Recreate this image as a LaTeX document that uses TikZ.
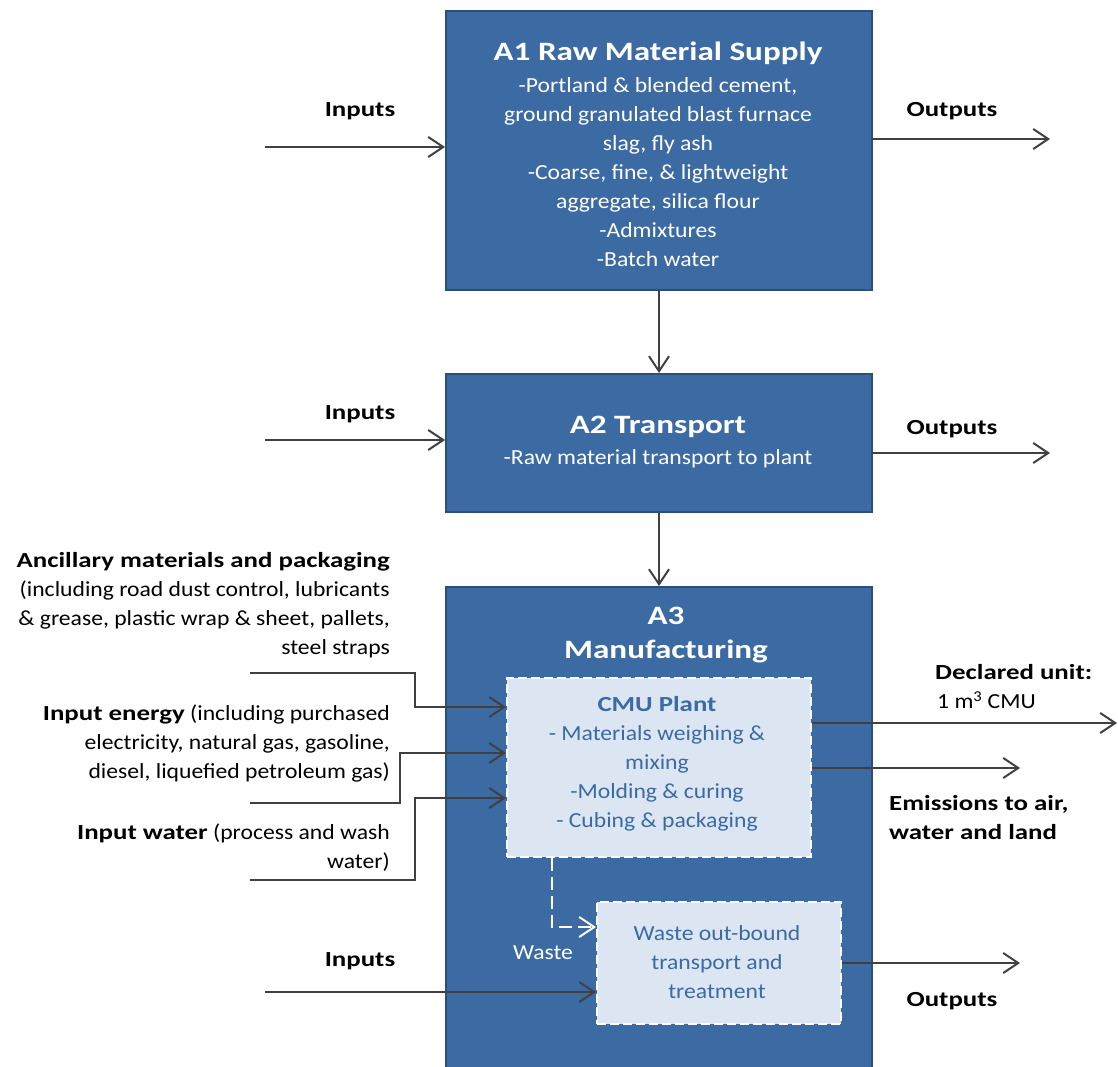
\documentclass[tikz,border=0pt]{standalone}
\usepackage{fontspec}
\setmainfont{Carlito}[UprightFeatures={FakeStretch=1.1}, BoldFeatures={FakeStretch=1.25}]
\usetikzlibrary{arrows.meta}
\definecolor{boxblue}{HTML}{3C6AA2}
\definecolor{boxedge}{HTML}{2B4F7A}
\definecolor{innerfill}{HTML}{DCE6F2}
\definecolor{innertext}{HTML}{3C6AA2}
\definecolor{arr}{HTML}{404040}
\tikzset{
  stage/.style={draw=boxedge, line width=2pt, fill=boxblue, inner sep=0pt, anchor=north west},
  inbox/.style={draw=white, line width=2pt, dash pattern=on 9pt off 4pt, fill=innerfill, inner sep=0pt, anchor=north west},
  flow/.style={draw=arr, line width=2pt, -{Straight Barb[length=15pt,width=20pt,line width=2pt]}},
  wflow/.style={draw=white, line width=2pt, dash pattern=on 13pt off 6pt, -{Straight Barb[length=15pt,width=20pt,line width=2pt]}},
  lbl/.style={inner sep=0pt, font=\fontsize{21.5}{29}\selectfont},
  blbl/.style={lbl, font=\fontsize{21.5}{29}\selectfont\bfseries},
  wtitle/.style={inner sep=0pt, text=white, font=\fontsize{26.5}{35}\selectfont\bfseries},
  wbody/.style={inner sep=0pt, text=white, align=center, font=\fontsize{21.5}{29}\selectfont},
  ibody/.style={inner sep=0pt, text=innertext, align=center, font=\fontsize{21.5}{29}\selectfont},
}
\begin{document}
\begin{tikzpicture}[x=1pt,y=-1pt]
\useasboundingbox[fill=white] (0,0) rectangle (1118,1067);
% stages
\node[stage, minimum width=426, minimum height=279] (A1) at (445,10) {};
\node[stage, minimum width=426, minimum height=138] (A2) at (445,373) {};
\node[stage, minimum width=426, minimum height=500] (A3) at (445,586) {};
% A1 text
\node[wtitle] (A1t) at (658,53) {A1 Raw Material Supply};
\node[wbody] (A1b) at (658,172) {-Portland \& blended cement,\\ground granulated blast furnace\\slag, fly ash\\-Coarse, fine, \& lightweight\\aggregate, silica flour\\-Admixtures\\-Batch water};
% A2 text
\node[wtitle] (A2t) at (658,427) {A2 Transport};
\node[wbody] (A2b) at (658,459) {-Raw material transport to plant};
% A3 text
\node[wtitle] (A3t) at (666,616) {A3};
\node[wtitle] (A3m) at (666,651) {Manufacturing};
% inner boxes
\node[inbox, minimum width=304, minimum height=179] (cmu) at (506,677) {};
\node[ibody] (cmut) at (657,764) {\textbf{CMU Plant}\\- Materials weighing \&\\mixing\\-Molding \& curing\\- Cubing \& packaging};
\node[inbox, minimum width=244, minimum height=122] (waste) at (596,901) {};
\node[ibody] (wastet) at (717,962) {Waste out-bound\\transport and\\treatment};
% vertical flows
\draw[flow] (A1.south) -- (A2.north);
\draw[flow] (A2.south) -- (A3.north);
% A1 inputs/outputs
\node[blbl] (in1t) at (360,111) {Inputs};
\node[blbl] (out1t) at (952,111) {Outputs};
\coordinate (in1) at (265,147);
\coordinate (out1) at (1050,139);
\draw[flow] (in1) -- (A1.west |- in1);
\draw[flow] (A1.east |- out1) -- (out1);
% A2 inputs/outputs
\node[blbl] (in2t) at (360,414) {Inputs};
\node[blbl] (out2t) at (952,429) {Outputs};
\coordinate (in2) at (265,440);
\coordinate (out2) at (1050,453);
\draw[flow] (in2) -- (A2.west |- in2);
\draw[flow] (A2.east |- out2) -- (out2);
% left labels
\node[lbl, align=right, anchor=north east] (anct) at (390,552) {\textbf{Ancillary materials and packaging}\\(including road dust control, lubricants\\\& grease, plastic wrap \& sheet, pallets,\\steel straps};
\node[lbl, align=right, anchor=north east] (enet) at (390,705) {\textbf{Input energy} (including purchased\\electricity, natural gas, gasoline,\\diesel, liquefied petroleum gas)};
\node[lbl, align=right, anchor=north east] (watt) at (390,824) {\textbf{Input water} (process and wash\\water)};
% CMU inputs
\path (cmu.north west) ++(0,30) coordinate (c1) ++(0,46) coordinate (c2) ++(0,45) coordinate (c3);
\coordinate (anc) at (250,673);
\coordinate (ene) at (250,803);
\coordinate (wat) at (250,880);
\draw[flow] (anc) -- (415,673) -- (415,707) -- (c1);
\draw[flow] (ene) -- (400,803) -- (400,753) -- (c2);
\draw[flow] (wat) -- (415,880) -- (415,798) -- (c3);
% CMU outputs
\path (cmu.north east) ++(0,46) coordinate (d1) ++(0,45) coordinate (d2);
\coordinate (decl) at (1117,723);
\coordinate (emis) at (1020,768);
\draw[flow] (d1) -- (decl);
\draw[flow] (d2) -- (emis);
\node[blbl, anchor=west] (declt) at (935,672) {Declared unit:};
\node[lbl, anchor=west] (unitt) at (937,700) {1 m\textsuperscript{3} CMU};
\node[lbl, align=left, anchor=north west] (emist) at (889,795) {\textbf{Emissions to air,}\\\textbf{water and land}};
% waste
\path (cmu.south west) ++(46,0) coordinate (w0);
\path (waste.north west) ++(0,26) coordinate (w1);
\draw[wflow] (w0) |- (w1);
\node[lbl, text=white] (wastel) at (543,953) {Waste};
% bottom inputs/outputs
\node[blbl] (in3t) at (360,961) {Inputs};
\node[blbl] (out3t) at (952,1001) {Outputs};
\coordinate (in3) at (265,992);
\coordinate (out3) at (1020,963);
\draw[flow] (in3) -- (waste.west |- in3);
\draw[flow] (waste.east |- out3) -- (out3);
\end{tikzpicture}
\end{document}
